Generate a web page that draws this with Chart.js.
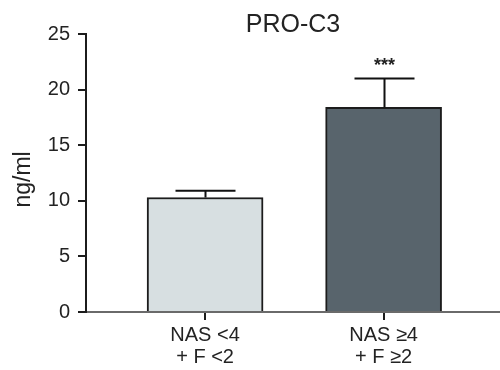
<!DOCTYPE html>
<html>
<head>
<meta charset="utf-8">
<script src="https://cdn.jsdelivr.net/npm/chart.js@4/dist/chart.umd.min.js"></script>
<style>
  html, body { margin: 0; padding: 0; background: #ffffff; }
  #wrap { width: 500px; height: 370px; }
</style>
</head>
<body>
<div id="wrap"><canvas id="c" width="500" height="370"></canvas></div>
<script>
// PRO-C3 serum levels by histology group (mean ± SEM)
const groups = [["NAS <4", "+ F <2"], ["NAS \u22654", "+ F \u22652"]];
const means = [10.3, 18.4];
const sem = [0.6, 2.6];
const significance = ["", "***"];
const yTicks = [0, 5, 10, 15, 20, 25];
const chartTitle = "PRO-C3";
const yTitle = "ng/ml  ";

const FONT = "'Liberation Sans', Arial, Helvetica, sans-serif";
const INK = "#232323";

// Error bars (upper whisker only) and significance stars above each bar
const errorBars = {
  id: "errorBars",
  afterDatasetsDraw(chart) {
    const { ctx, scales: { x, y } } = chart;
    ctx.save();
    ctx.strokeStyle = "#111";
    ctx.lineWidth = 2;
    means.forEach((m, i) => {
      const cx = Math.round(x.getPixelForValue(i)) + 0.5;
      const yTop = y.getPixelForValue(m);
      const yErr = y.getPixelForValue(m + sem[i]);
      ctx.beginPath();
      ctx.moveTo(cx, yTop);
      ctx.lineTo(cx, yErr);
      ctx.moveTo(cx - 30, yErr);
      ctx.lineTo(cx + 30, yErr);
      ctx.stroke();
      if (significance[i]) {
        ctx.fillStyle = INK;
        ctx.font = "bold 18px " + FONT;
        ctx.textAlign = "center";
        ctx.textBaseline = "middle";
        ctx.fillText(significance[i], cx, yErr - 12);
      }
    });
    ctx.restore();
  }
};

new Chart(document.getElementById("c"), {
  type: "bar",
  data: {
    datasets: [{
      data: means.map((v, i) => ({ x: i, y: v })),
      backgroundColor: ["#d7dfe1", "#58646c"],
      borderColor: "#1c1c1c",
      borderWidth: 2,
      barThickness: 116
    }]
  },
  options: {
    responsive: false,
    animation: false,
    layout: { padding: 0 },
    plugins: {
      legend: { display: false },
      tooltip: { enabled: false },
      title: {
        display: true,
        text: chartTitle,
        fullSize: false,
        color: INK,
        font: { family: FONT, size: 25, weight: "normal" },
        padding: { top: 10, bottom: -6 }
      }
    },
    scales: {
      x: {
        type: "linear",
        offset: false,
        min: -0.667,
        max: 1.652,
        afterBuildTicks: s => { s.ticks = groups.map((_, i) => ({ value: i })); },
        afterFit: s => { s.height = 58; },
        ticks: {
          callback: v => groups[v],
          color: INK,
          font: { family: FONT, size: 20, lineHeight: 1.1 },
          padding: 4,
          maxRotation: 0,
          autoSkip: false
        },
        grid: { offset: false, drawOnChartArea: false, drawTicks: true, tickLength: 8, color: "#1c1c1c", lineWidth: 2 },
        border: { display: true, color: "#6a6a6a", width: 2 }
      },
      y: {
        min: 0,
        max: 25,
        afterBuildTicks: s => { s.ticks = yTicks.map(v => ({ value: v })); },
        afterFit: s => { s.width = 86; },
        ticks: {
          color: INK,
          font: { family: FONT, size: 20 },
          padding: 8
        },
        title: {
          display: true,
          text: yTitle,
          color: INK,
          font: { family: FONT, size: 23 },
          padding: { top: 10, bottom: 0 }
        },
        grid: { drawOnChartArea: false, drawTicks: true, tickLength: 8, color: "#1c1c1c", lineWidth: 2 },
        border: { display: true, color: "#1c1c1c", width: 2 }
      }
    }
  },
  plugins: [errorBars]
});
</script>
</body>
</html>
